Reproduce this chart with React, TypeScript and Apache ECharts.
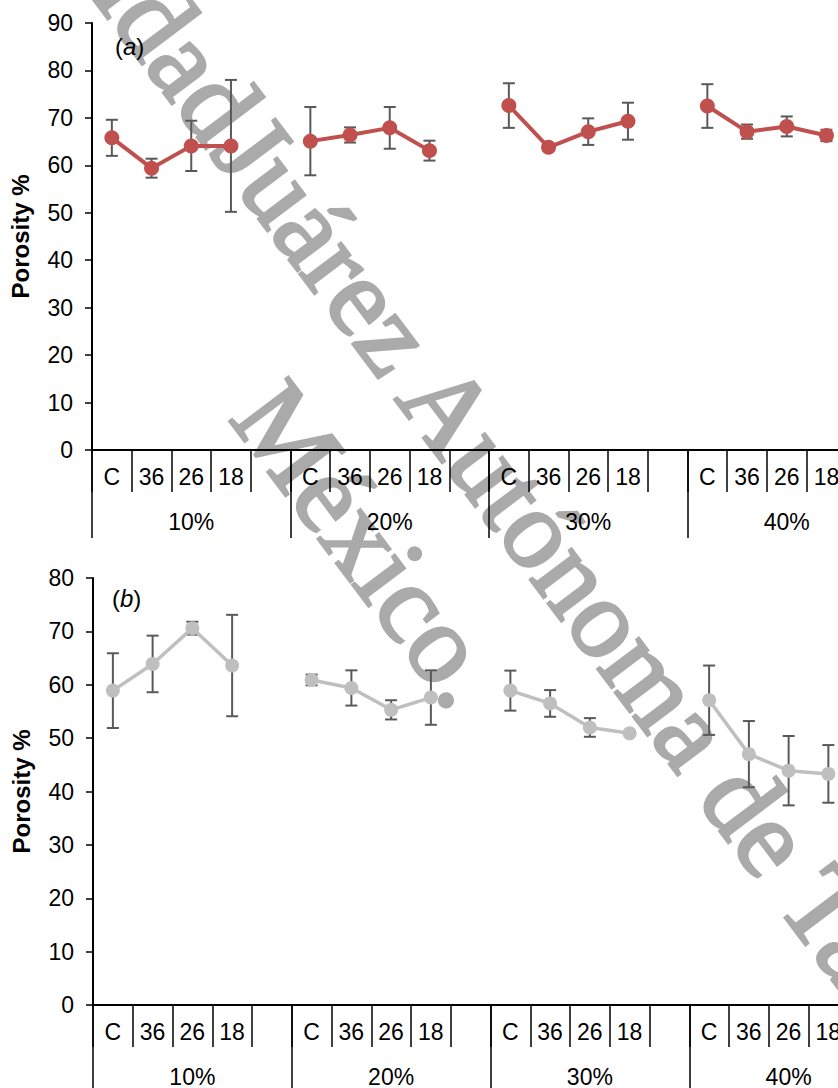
import React, { useEffect, useRef } from "react";
import * as echarts from "echarts";

const subCategories = ["C", "36", "26", "18", ""];
const groupLabels = ["10%", "20%", "30%", "40%"];
const slotLabels = groupLabels.flatMap(() => subCategories);

// Panel (a) porosity % and error (±)
const porosityA = [65.8, 59.4, 64.1, 64.1, null, 65.1, 66.4, 67.9, 63.1, null, 72.6, 63.8, 67.1, 69.3, null, 72.5, 67.1, 68.2, 66.3, null];
const errorA = [3.8, 2.0, 5.3, 13.9, null, 7.2, 1.6, 4.4, 2.1, null, 4.7, 0.8, 2.8, 3.9, null, 4.6, 1.5, 2.1, 1.2, null];

// Panel (b)
const porosityB = [58.9, 63.9, 70.6, 63.6, null, 60.9, 59.4, 55.3, 57.6, null, 58.9, 56.5, 52.0, 50.9, null, 57.1, 47.0, 43.9, 43.3, null];
const errorB = [7.0, 5.3, 1.2, 9.5, null, 1.0, 3.3, 1.8, 5.1, null, 3.75, 2.5, 1.75, 0.4, null, 6.5, 6.2, 6.5, 5.4, null];

const yAxisA = { min: 0, max: 90, interval: 10 };
const yAxisB = { min: 0, max: 80, interval: 10 };

const FONT = "'Liberation Sans', Arial, sans-serif";
const SERIF = "'Liberation Serif', 'Times New Roman', serif";

function errData(means: (number | null)[], errs: (number | null)[]) {
  const out: number[][] = [];
  means.forEach((m, i) => {
    const e = errs[i];
    if (m != null && e != null) out.push([i, m - e, m + e]);
  });
  return out;
}

function errorRender(params: any, api: any) {
  const x = api.value(0);
  const top = api.coord([x, api.value(2)]);
  const bot = api.coord([x, api.value(1)]);
  const w = 6;
  const style = { stroke: "#595959", lineWidth: 2 };
  return {
    type: "group",
    children: [
      { type: "line", shape: { x1: top[0], y1: top[1], x2: bot[0], y2: bot[1] }, style },
      { type: "line", shape: { x1: top[0] - w, y1: top[1], x2: top[0] + w, y2: top[1] }, style },
      { type: "line", shape: { x1: bot[0] - w, y1: bot[1], x2: bot[0] + w, y2: bot[1] }, style },
    ],
  };
}

function xAxes(gridIndex: number) {
  const lineStyle = { color: "#000", width: 1.5 };
  return [
    {
      gridIndex,
      type: "category",
      data: slotLabels,
      position: "bottom",
      boundaryGap: true,
      axisLine: { show: true, lineStyle: { color: "#000", width: 2 } },
      axisTick: { show: true, interval: 0, length: 42, lineStyle },
      axisLabel: { interval: 0, color: "#000", fontSize: 23, margin: 15, fontFamily: FONT },
      splitLine: { show: false },
    },
    {
      gridIndex,
      type: "category",
      data: groupLabels,
      position: "bottom",
      boundaryGap: true,
      axisLine: { show: false },
      axisTick: { show: true, interval: 0, length: 88, lineStyle },
      axisLabel: { interval: 0, color: "#000", fontSize: 23, margin: 60, fontFamily: FONT },
      splitLine: { show: false },
    },
  ];
}

function yAxis(gridIndex: number, cfg: { min: number; max: number; interval: number }) {
  return {
    gridIndex,
    type: "value",
    min: cfg.min,
    max: cfg.max,
    interval: cfg.interval,
    name: "Porosity %",
    nameLocation: "middle",
    nameGap: 60,
    nameTextStyle: { fontWeight: "bold", fontSize: 24, color: "#000", fontFamily: FONT },
    axisLine: { show: true, lineStyle: { color: "#000", width: 2 } },
    axisTick: { show: true, length: 7, lineStyle: { color: "#000", width: 1.5 } },
    axisLabel: { color: "#000", fontSize: 23, margin: 19, fontFamily: FONT },
    splitLine: { show: false },
  };
}

const wmAngle = (-53 * Math.PI) / 180;

export default function App() {
  const ref = useRef<HTMLDivElement>(null);
  useEffect(() => {
    if (!ref.current) return;
    const chart = echarts.init(ref.current, null, { renderer: "svg" });
    const panelLabel = (letter: string, x: number, y: number) => ({
      type: "text",
      x,
      y,
      z: 50,
      style: {
        text: `{n|(}{i|${letter}}{n|)}`,
        rich: {
          n: { fontSize: 24, fontFamily: FONT, fill: "#000" },
          i: { fontSize: 24, fontFamily: FONT, fontStyle: "italic", fill: "#000" },
        },
        fill: "#000",
      },
    });
    const wmStyle = (text: string, align: string) => ({
      text,
      fontSize: 112,
      fontFamily: SERIF,
      fill: "#AAAAAA",
      stroke: "#AAAAAA",
      lineWidth: 3,
      align,
      verticalAlign: "middle",
    });
    chart.setOption({
      animation: false,
      backgroundColor: "#fff",
      grid: [
        { left: 91, top: 23, width: 795, height: 427 },
        { left: 93, top: 578, width: 795, height: 427 },
      ],
      xAxis: [...xAxes(0), ...xAxes(1)],
      yAxis: [yAxis(0, yAxisA), yAxis(1, yAxisB)],
      series: [
        {
          type: "custom",
          xAxisIndex: 0,
          yAxisIndex: 0,
          renderItem: errorRender,
          data: errData(porosityA, errorA),
          encode: { x: 0, y: [1, 2] },
          z: 1,
          clip: false,
        },
        {
          type: "line",
          xAxisIndex: 0,
          yAxisIndex: 0,
          data: porosityA,
          connectNulls: false,
          symbol: "circle",
          symbolSize: 15,
          lineStyle: { color: "#C0504D", width: 4 },
          itemStyle: { color: "#C0504D" },
          z: 3,
        },
        {
          type: "custom",
          xAxisIndex: 2,
          yAxisIndex: 1,
          renderItem: errorRender,
          data: errData(porosityB, errorB),
          encode: { x: 0, y: [1, 2] },
          z: 1,
          clip: false,
        },
        {
          type: "line",
          xAxisIndex: 2,
          yAxisIndex: 1,
          data: porosityB,
          connectNulls: false,
          symbol: "circle",
          symbolSize: 14,
          lineStyle: { color: "#BFBFBF", width: 3.5 },
          itemStyle: { color: "#BFBFBF" },
          z: 3,
        },
      ],
      graphic: [
        panelLabel("a", 115, 34),
        panelLabel("b", 112, 586),
        { type: "text", x: 239, y: 130, rotation: wmAngle, z: -1, style: wmStyle("Juárez Autónoma de Tabasco", "left") },
        { type: "text", x: 237, y: 127, rotation: wmAngle, z: -1, style: wmStyle("Universidad", "right") },
        { type: "text", x: 258, y: 396, rotation: wmAngle, z: -1, style: wmStyle("México.", "left") },
      ],
    });
    return () => chart.dispose();
  }, []);
  return (
    <div style={{ position: "absolute", left: 0, top: 0, width: 838, height: 1088, overflow: "hidden" }}>
      <div ref={ref} style={{ width: 900, height: 1088 }} />
    </div>
  );
}
